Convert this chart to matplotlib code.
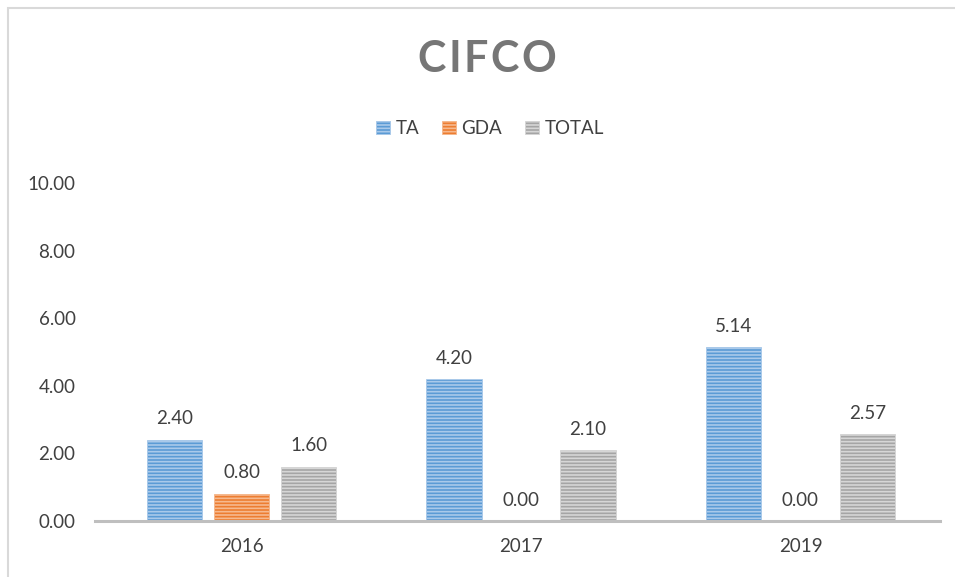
import numpy as np
import matplotlib.pyplot as plt
from matplotlib.patches import Rectangle

years = ["2016", "2017", "2019"]
series = ["TA", "GDA", "TOTAL"]
ta = [2.40, 4.20, 5.14]
gda = [0.80, 0.00, 0.00]
total = [1.60, 2.10, 2.57]

colors = ["#5b9bd5", "#ed7d31", "#a5a5a5"]
stripes = ["#a9c9ea", "#f6b98f", "#d6d6d6"]

plt.rcParams["font.family"] = ["Lato", "DejaVu Sans"]
plt.rcParams["hatch.linewidth"] = 1.2

fig = plt.figure(figsize=(9.55, 5.77), dpi=100)
ax = fig.add_axes([0.0995, 0.097, 0.885, 0.586])

# chart border
fig.patches.append(Rectangle((8 / 955, -0.02), 1.1, 1 - 8 / 577 + 0.02,
                             transform=fig.transFigure, fill=False,
                             edgecolor="#d9d9d9", linewidth=1.5))

x = np.arange(len(years))
width = 0.198
step = 0.24
for i, (name, vals) in enumerate(zip(series, [ta, gda, total])):
    pos = x + (i - 1) * step
    bars = ax.bar(pos, vals, width, color=colors[i], edgecolor=stripes[i],
                  hatch="-----", linewidth=0.6, label=name)
    for xp, v in zip(pos, vals):
        ax.annotate(f"{v:.2f}", (xp, v), xytext=(0, 9), textcoords="offset points",
                    ha="center", va="bottom", fontsize=13.5, color="#404040")

ax.set_ylim(0, 10)
ax.set_xlim(-0.525, 2.5)
ax.set_yticks(np.arange(0, 10.1, 2))
ax.set_yticklabels([f"{t:.2f}" for t in np.arange(0, 10.1, 2)])
ax.set_xticks(x)
ax.set_xticklabels(years)
ax.tick_params(axis="both", length=0, labelsize=13.5, labelcolor="#404040")
ax.tick_params(axis="y", pad=14)
ax.tick_params(axis="x", pad=12)
for s in ["left", "right", "top"]:
    ax.spines[s].set_visible(False)
ax.spines["bottom"].set_color("#bfbfbf")
ax.spines["bottom"].set_linewidth(2.2)

# title with letter spacing
title = "CIFCO"
renderer = fig.canvas.get_renderer()
letters = []
for ch in title:
    t = fig.text(0, 0.897, ch, ha="left", va="center", fontsize=31,
                 fontweight="bold", color="#767676")
    letters.append((t, t.get_window_extent(renderer).width))
gap = 2.5
total_w = sum(w for _, w in letters) + gap * (len(letters) - 1)
xpix = 487 - total_w / 2
for t, w in letters:
    t.set_x(xpix / 955)
    xpix += w + gap

fig.legend(loc="center", bbox_to_anchor=(0.513, 0.777), ncol=3, frameon=False,
           fontsize=13.5, labelcolor="#404040", handlelength=0.75,
           handleheight=0.75, handletextpad=0.3, columnspacing=1.2)

plt.savefig("out.png", dpi=100)
